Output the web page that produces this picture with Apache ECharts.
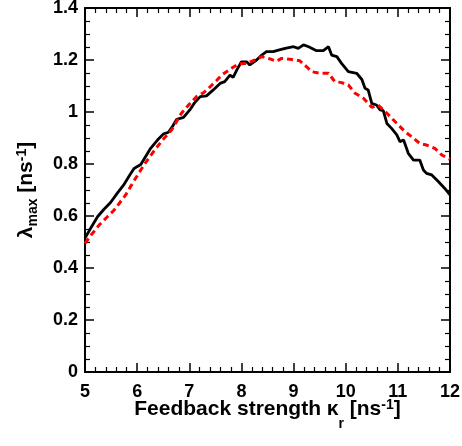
<!DOCTYPE html>
<html><head><meta charset="utf-8">
<script src="https://cdn.jsdelivr.net/npm/echarts@6/dist/echarts.min.js"></script>
<style>html,body{margin:0;padding:0;background:#fff}#c{width:462px;height:446px}</style>
</head><body><div id="c"></div>
<script>
var kappaBlack = [5.0,5.1,5.24,5.36,5.49,5.62,5.75,5.85,5.94,6.07,6.16,6.25,6.39,6.5,6.6,6.68,6.76,6.89,7.01,7.1,7.21,7.33,7.46,7.59,7.68,7.78,7.84,7.92,8.0,8.1,8.16,8.29,8.39,8.48,8.61,8.71,8.84,9.0,9.09,9.19,9.29,9.44,9.57,9.67,9.73,9.83,9.92,10.05,10.21,10.31,10.37,10.43,10.5,10.59,10.66,10.72,10.79,10.88,10.98,11.04,11.11,11.2,11.3,11.42,11.49,11.55,11.65,11.78,11.9,12.0];
var lambdaBlack = [0.515,0.55,0.597,0.625,0.652,0.688,0.722,0.755,0.783,0.798,0.828,0.858,0.892,0.915,0.922,0.945,0.972,0.979,1.008,1.035,1.059,1.062,1.085,1.110,1.117,1.142,1.133,1.165,1.193,1.193,1.181,1.2,1.219,1.232,1.232,1.238,1.245,1.251,1.245,1.258,1.251,1.236,1.236,1.251,1.219,1.213,1.187,1.155,1.149,1.125,1.091,1.085,1.033,1.027,1.008,1.005,0.956,0.937,0.912,0.886,0.892,0.841,0.815,0.815,0.777,0.764,0.758,0.732,0.706,0.681];
var kappaRed = [5.0,5.13,5.27,5.42,5.56,5.67,5.78,5.88,5.97,6.13,6.25,6.36,6.5,6.66,6.85,7.0,7.14,7.28,7.40,7.52,7.62,7.81,7.94,8.10,8.26,8.39,8.52,8.67,8.77,8.93,9.12,9.25,9.35,9.51,9.67,9.79,9.92,10.05,10.18,10.34,10.5,10.62,10.79,10.98,11.14,11.30,11.42,11.55,11.71,11.84,12.0];
var lambdaRed = [0.495,0.53,0.565,0.595,0.623,0.652,0.681,0.715,0.745,0.796,0.830,0.860,0.895,0.931,0.995,1.03,1.059,1.075,1.097,1.12,1.142,1.168,1.185,1.187,1.2,1.213,1.206,1.195,1.206,1.203,1.197,1.174,1.155,1.149,1.149,1.117,1.113,1.104,1.072,1.053,1.018,1.027,0.995,0.956,0.924,0.899,0.879,0.873,0.860,0.835,0.818];
var xTicks = [5, 6, 7, 8, 9, 10, 11, 12];
var yTicks = [0, 0.2, 0.4, 0.6, 0.8, 1, 1.2, 1.4];

function zip(a, b) { return a.map(function (v, i) { return [v, b[i]]; }); }
var FONT = "'Liberation Sans', Arial, sans-serif";
function frameLine() { return { show: true, onZero: false, lineStyle: { color: '#000', width: 2 } }; }
function tick() { return { show: true, inside: true, length: 9, lineStyle: { color: '#000', width: 1.5 } }; }
function minor(n) { return { show: true, splitNumber: n, length: 5, lineStyle: { color: '#000', width: 1.2 } }; }

var chart = echarts.init(document.getElementById('c'));
chart.setOption({
  animation: false,
  backgroundColor: '#fff',
  grid: { left: 85, right: 12, top: 8, bottom: 74, containLabel: false, outerBoundsMode: 'none' },
  xAxis: [{
    type: 'value', min: xTicks[0], max: xTicks[xTicks.length - 1], interval: xTicks[1] - xTicks[0], position: 'bottom',
    axisLine: frameLine(), axisTick: tick(), minorTick: minor(5),
    splitLine: { show: false },
    axisLabel: { margin: 11, color: '#000', fontFamily: FONT, fontWeight: 'bold', fontSize: 18 },
    name: '{a|Feedback strength κ}{sub|r}{a| [ns}{sup|-1}{a|]}',
    nameLocation: 'middle', nameGap: 27, nameMoveOverlap: false,
    nameTextStyle: {
      color: '#000', fontFamily: FONT, fontWeight: 'bold', fontSize: 21,
      rich: {
        a: { fontFamily: FONT, fontWeight: 'bold', fontSize: 21, lineHeight: 21, color: '#000' },
        sub: { fontFamily: FONT, fontWeight: 'bold', fontSize: 14, lineHeight: 14, color: '#000', padding: [30, 0, 0, 0] },
        sup: { fontFamily: FONT, fontWeight: 'bold', fontSize: 14, lineHeight: 14, color: '#000', padding: [0, 0, 9, 0] }
      }
    }
  }, {
    type: 'value', min: xTicks[0], max: xTicks[xTicks.length - 1], interval: xTicks[1] - xTicks[0], position: 'top',
    axisLine: frameLine(), axisTick: tick(), minorTick: minor(5),
    splitLine: { show: false }, axisLabel: { show: false }
  }],
  yAxis: [{
    type: 'value', min: yTicks[0], max: yTicks[yTicks.length - 1], interval: 0.2, position: 'left',
    axisLine: frameLine(), axisTick: tick(), minorTick: minor(4),
    splitLine: { show: false },
    axisLabel: { margin: 7, color: '#000', fontFamily: FONT, fontWeight: 'bold', fontSize: 18 },
    name: '{a|λ}{sub|max}{a| [ns}{sup|-1}{a|]}',
    nameLocation: 'middle', nameGap: 48, nameRotate: 90, nameMoveOverlap: false,
    nameTextStyle: {
      color: '#000', fontFamily: FONT, fontWeight: 'bold', fontSize: 21,
      rich: {
        a: { fontFamily: FONT, fontWeight: 'bold', fontSize: 21, lineHeight: 21, color: '#000' },
        sub: { fontFamily: FONT, fontWeight: 'bold', fontSize: 14, lineHeight: 14, color: '#000', padding: [14, 0, 0, 0] },
        sup: { fontFamily: FONT, fontWeight: 'bold', fontSize: 14, lineHeight: 14, color: '#000', padding: [0, 0, 9, 0] }
      }
    }
  }, {
    type: 'value', min: yTicks[0], max: yTicks[yTicks.length - 1], interval: 0.2, position: 'right',
    axisLine: frameLine(), axisTick: tick(), minorTick: minor(4),
    splitLine: { show: false }, axisLabel: { show: false }
  }],
  series: [{
    type: 'line', xAxisIndex: 0, yAxisIndex: 0, data: zip(kappaBlack, lambdaBlack),
    showSymbol: false, lineStyle: { color: '#000', width: 2.8 }, z: 3
  }, {
    type: 'line', xAxisIndex: 0, yAxisIndex: 0, data: zip(kappaRed, lambdaRed),
    showSymbol: false, lineStyle: { color: '#ff0000', width: 3, type: [6, 4] }, z: 4
  }]
});
</script></body></html>
